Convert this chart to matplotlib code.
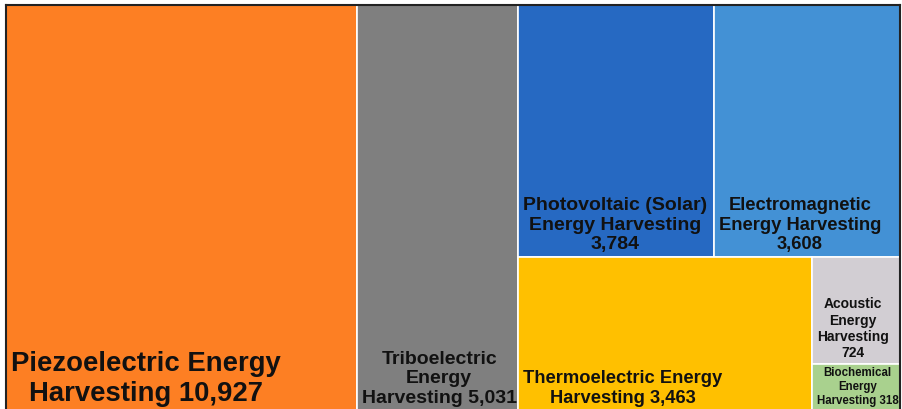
import matplotlib
matplotlib.use("Agg")
import matplotlib.pyplot as plt
from matplotlib.patches import Rectangle

# Treemap data (publication counts by harvesting technology)
labels = ["Piezoelectric Energy\nHarvesting 10,927",
          "Triboelectric\nEnergy\nHarvesting 5,031",
          "Photovoltaic (Solar)\nEnergy Harvesting\n3,784",
          "Electromagnetic\nEnergy Harvesting\n3,608",
          "Thermoelectric Energy\nHarvesting 3,463",
          "Acoustic\nEnergy\nHarvesting\n724",
          "Biochemical\nEnergy\nHarvesting 318"]
values = [10927, 5031, 3784, 3608, 3463, 724, 318]
colors = ["#FD7F23", "#7F7F7F", "#2669C2", "#4391D5", "#FFC000", "#D2CED3", "#A9D18E"]
font_sizes = [19.8, 14, 14, 13.2, 13.2, 10, 8.3]

# nesting of the layout: each node is (direction, children); leaves are indices
# 'h' splits side by side, 'v' splits top to bottom
tree = ("h", [0, 1, ("v", [("h", [2, 3]), ("h", [4, ("v", [5, 6])])])])


def total(node):
    if isinstance(node, int):
        return values[node]
    return sum(total(c) for c in node[1])


def layout(node, x, y, w, h, out):
    if isinstance(node, int):
        out[node] = (x, y, w, h)
        return
    direction, children = node
    s = total(node)
    pos = 0.0
    for c in children:
        frac = total(c) / s
        if direction == "h":
            layout(c, x + pos * w, y, frac * w, h, out)
        else:
            layout(c, x, y + pos * h, w, frac * h, out)
        pos += frac


W, H = 894, 406
rects = {}
layout(tree, 0, 0, W, H, rects)

fig = plt.figure(figsize=(9.03, 4.09), dpi=100)
ax = fig.add_axes([6 / 903, -2 / 409, W / 903, H / 409])
ax.set_xlim(0, W)
ax.set_ylim(H, 0)

for i in range(len(values)):
    x, y, w, h = rects[i]
    ax.add_patch(Rectangle((x, y), w, h, facecolor=colors[i],
                           edgecolor="white", linewidth=1.2))
    ax.text(x + 5, y + h - 4, labels[i], ha="left", va="bottom",
            multialignment="center", fontsize=font_sizes[i],
            fontweight="bold", family="Liberation Sans", color="#111111",
            linespacing=1.2)

ax.set_xticks([])
ax.set_yticks([])
for side in ["top", "left", "right"]:
    ax.spines[side].set_color("#222222")
    ax.spines[side].set_linewidth(1.5)
ax.spines["bottom"].set_visible(False)

fig.savefig("out.png", dpi=100)
